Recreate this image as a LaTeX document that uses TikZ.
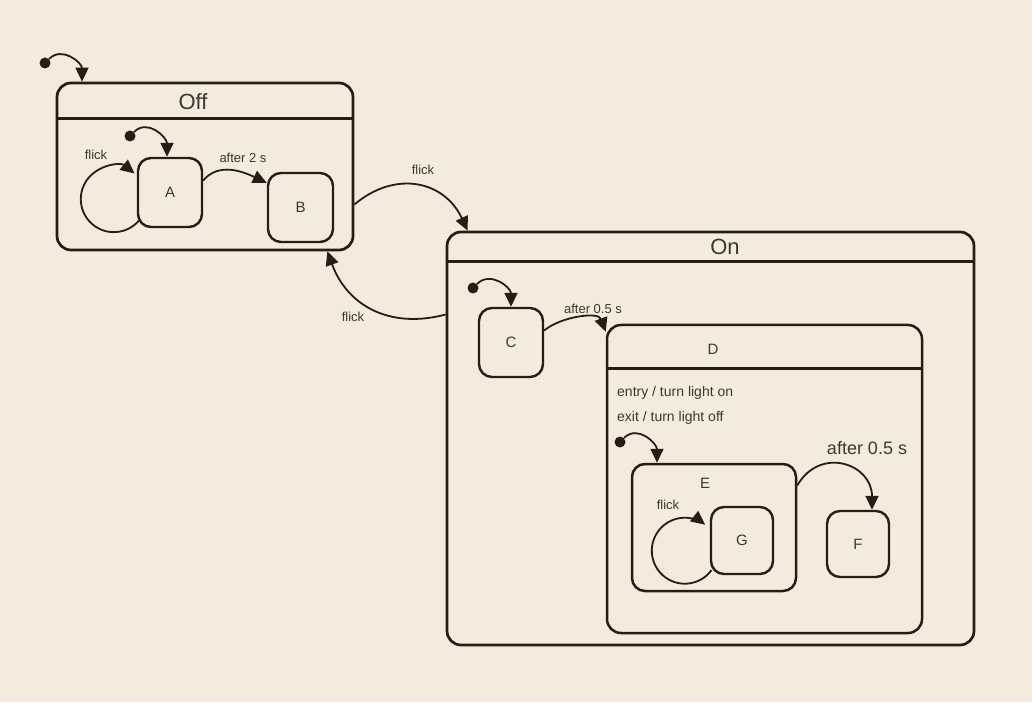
\documentclass[tikz,border=0pt]{standalone}
\usepackage{fontspec}
\setmainfont{Liberation Sans}
\usetikzlibrary{arrows.meta}
\definecolor{bg}{RGB}{243,235,222}
\definecolor{ink}{RGB}{38,30,22}
\definecolor{txt}{RGB}{62,55,48}
\begin{document}
\begin{tikzpicture}[x=1pt,y=1pt,
  box/.style={draw=ink, line width=2.7pt, rounded corners=14pt, inner sep=0pt},
  st/.style={draw=ink, line width=2.4pt, rounded corners=13pt, inner sep=0pt, text=txt, font=\fontsize{15}{18}\selectfont},
  lbl/.style={text=txt, font=\fontsize{13}{15}\selectfont, inner sep=1pt},
  ttl/.style={text=txt, font=\fontsize{22}{26}\selectfont, inner sep=0pt},
  stxt/.style={text=txt, font=\fontsize{14}{17}\selectfont, inner sep=0pt},
  init/.style={circle, fill=ink, minimum size=11pt, inner sep=0pt},
  tr/.style={draw=ink, line width=1.8pt, -{Triangle[length=14pt,width=13pt]}},
  hdr/.style={draw=ink, line width=2.7pt}
]
\fill[bg] (0,0) rectangle (1032,702);
\useasboundingbox (0,0) rectangle (1032,702);

% composite states
\node[box, minimum width=296pt, minimum height=167pt] (off) at (205,535.5) {};
\draw[hdr] ([yshift=-37pt]off.north west) -- ([yshift=-37pt]off.north east);
\node[ttl] (offT) at (193,600) {Off};

\node[box, minimum width=527pt, minimum height=413pt] (on) at (710.5,263.5) {};
\draw[hdr] ([yshift=-31pt]on.north west) -- ([yshift=-31pt]on.north east);
\node[ttl] (onT) at (725,455) {On};

\node[box, line width=2.5pt, minimum width=315pt, minimum height=308pt] (D) at (764.5,223) {};
\draw[hdr, line width=2.5pt] ([yshift=-45pt]D.north west) -- ([yshift=-45pt]D.north east);
\node[stxt, font=\fontsize{15}{18}\selectfont] (DT) at (713,353) {D};
\node[stxt, anchor=west] (entry) at (617,309) {entry / turn light on};
\node[stxt, anchor=west] (exit) at (617,284) {exit / turn light off};

\node[box, line width=2.5pt, rounded corners=13pt, minimum width=164pt, minimum height=127pt] (E) at (714,174.5) {};
\node[stxt, font=\fontsize{15}{18}\selectfont] (ET) at (705,219) {E};

% simple states
\node[st, minimum width=64pt, minimum height=69pt] (A) at (170,509.5) {A};
\node[st, minimum width=65pt, minimum height=69pt] (B) at (300.5,494.5) {B};
\node[st, minimum width=64pt, minimum height=69pt] (C) at (511,359.5) {C};
\node[st, minimum width=62pt, minimum height=67pt] (G) at (742,161.5) {G};
\node[st, minimum width=62pt, minimum height=66pt] (F) at (858,158) {F};

% initial pseudostates
\node[init] (i0) at (45,639) {};
\node[init] (i1) at (130,566) {};
\node[init] (i2) at (473,414) {};
\node[init] (i3) at (620,260) {};

\draw[tr] (i0) to[out=45,in=90,looseness=1.2] ([xshift=-123pt]off.north);
\draw[tr] (i1) to[out=45,in=90,looseness=1.2] ([xshift=-3pt]A.north);
\draw[tr] (i2) to[out=45,in=90,looseness=1.2] (C.north);
\draw[tr] (i3) to[out=45,in=90,looseness=1.2] ([xshift=-57pt]E.north);

% transitions
\draw[tr] ([yshift=12pt]A.east) to[out=50,in=155] ([yshift=-11pt]B.north west);
\node[lbl] (l1) at (243,544) {after 2 s};

\draw[tr] ([shift={(1.9pt,7.4pt)}]A.south west) arc[start angle=-41, end angle=-309, radius=33pt];
\node[lbl] (l2) at (96,547) {flick};

\draw[tr] ([yshift=-38pt]off.east) to[out=40,in=115,looseness=1.2] ([xshift=22pt]on.north west);
\node[lbl] (l3) at (423,532) {flick};

\draw[tr] ([yshift=124pt]on.west) to[out=195,in=-70,looseness=1.1] ([xshift=-27pt]off.south east);
\node[lbl] (l4) at (353,385) {flick};

\draw[tr] ([yshift=12pt]C.east) to[out=40,in=110,looseness=0.9] ([yshift=-8pt]D.north west);
\node[lbl] (l5) at (593,393) {after 0.5 s};

\draw[tr] ([shift={(1.7pt,5.1pt)}]G.south west) arc[start angle=-36, end angle=-308, radius=33pt];
\node[lbl] (l6) at (668,197) {flick};

\draw[tr] ([yshift=42pt]E.east) to[out=60,in=90,looseness=1.5] ([xshift=14pt]F.north);
\node[lbl, font=\fontsize{18}{21}\selectfont] (l7) at (867,254) {after 0.5 s};
\end{tikzpicture}
\end{document}
